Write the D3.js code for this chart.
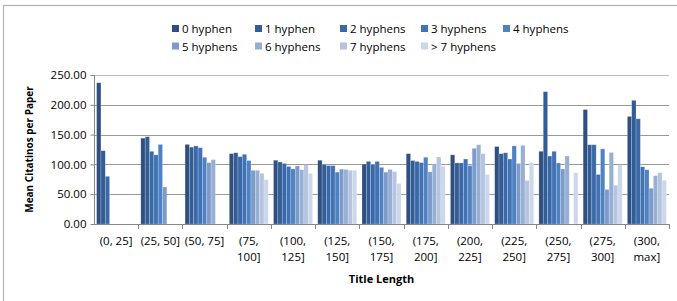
<!DOCTYPE html>
<html>
<head>
<meta charset="utf-8">
<script src="https://cdnjs.cloudflare.com/ajax/libs/d3/7.8.5/d3.min.js"></script>
<style>
  body { margin: 0; background: #fff; }
  svg { display: block; font-family: "Open Sans", sans-serif; }
  .label { font-size: 11.5px; fill: #000; }
  .title { font-size: 11px; font-weight: bold; fill: #000; }
</style>
</head>
<body>
<svg id="chart" width="677" height="301"></svg>
<script>
  /*
   * Data
   */

  var CATEGORIES = [
    "(0, 25]", "(25, 50]", "(50, 75]", "(75, 100]", "(100, 125]",
    "(125, 150]", "(150, 175]", "(175, 200]", "(200, 225]", "(225, 250]",
    "(250, 275]", "(275, 300]", "(300, max]"
  ];

  // categories that Excel wrapped onto two lines
  var WRAPPED = [false, false, false, true, true, true, true, true, true, true, true, true, true];

  var SERIES_NAMES = [
    "0 hyphen", "1 hyphen", "2 hyphens", "3 hyphens", "4 hyphens",
    "5 hyphens", "6 hyphens", "7 hyphens", "> 7 hyphens"
  ];

  var HYPHEN_0 = [237, 144, 133.5, 118, 107, 107, 100.5, 118, 116, 130, 122, 192, 180.5];
  var HYPHEN_1 = [123, 146.5, 129, 119.5, 104, 100, 105, 106.5, 102.5, 118, 222, 133, 207.5];
  var HYPHEN_2 = [80, 122, 131, 113, 101.5, 98, 100, 105, 102.5, 119.5, 114, 133, 176.5];
  var HYPHEN_3 = [null, 116, 128, 117, 96.5, 98, 105, 103, 109, 109, 122, 83, 96];
  var HYPHEN_4 = [null, 133.5, 112, 106.5, 92.5, 87, 95, 112, 98, 131, 102.5, 126, 91];
  var HYPHEN_5 = [null, 62, 103, 90, 97.5, 92, 87, 87.5, 127, 101.5, 92.5, 58, 60];
  var HYPHEN_6 = [null, null, 108, 90, 91, 91.5, 91.5, 101, 133, 132, 114, 120, 81];
  var HYPHEN_7 = [null, null, null, 85, 99, 90, 88, 112.5, 118, 73, null, 65, 86];
  var HYPHEN_8 = [null, null, null, 74.5, 85, 90, 68, 97, 83, 103, 86, 99, 73.5];

  var SERIES = [
    HYPHEN_0, HYPHEN_1, HYPHEN_2, HYPHEN_3, HYPHEN_4,
    HYPHEN_5, HYPHEN_6, HYPHEN_7, HYPHEN_8
  ];

  var Y_TICKS = [0, 50, 100, 150, 200, 250];

  var COLORS = [
    "#2e4f7f", "#335d97", "#3a69a8", "#4172b4", "#4f82c2",
    "#7d9bca", "#98afd4", "#b4c4e1", "#cdd7ea"
  ];

  /*
   * Layout
   */

  var PLOT_LEFT = 94;
  var PLOT_RIGHT = 669;
  var PLOT_TOP = 75;
  var PLOT_BOTTOM = 224;

  var LEGEND_COLS = [172, 255, 340, 421, 503];
  var LEGEND_ROWS = [29, 46.5];

  var svg = d3.select("#chart");

  // outer chart border (bottom and right fall outside the picture)
  svg.append("rect")
    .attr("x", 3.5)
    .attr("y", 5.5)
    .attr("width", 690)
    .attr("height", 320)
    .attr("fill", "none")
    .attr("stroke", "#b3b3b3")
    .attr("stroke-width", 1.2);

  var x = d3.scaleBand()
    .domain(CATEGORIES)
    .range([PLOT_LEFT, PLOT_RIGHT])
    .paddingInner(0)
    .paddingOuter(0);

  // Excel gap width ~120% of one bar
  var barw = x.bandwidth() / (SERIES.length + 1.2);
  var gap = x.bandwidth() - barw * SERIES.length;

  var y = d3.scaleLinear()
    .domain([0, 250])
    .range([PLOT_BOTTOM, PLOT_TOP]);

  // gridlines
  svg.append("g")
    .selectAll("line")
    .data(Y_TICKS.slice(1))
    .enter().append("line")
      .attr("x1", PLOT_LEFT)
      .attr("x2", PLOT_RIGHT)
      .attr("y1", d => Math.round(y(d)) + 0.5)
      .attr("y2", d => Math.round(y(d)) + 0.5)
      .attr("stroke", d => d == 250 ? "#bdbdbd" : "#989898")
      .attr("stroke-width", 1);

  // bars
  var groups = svg.append("g")
    .selectAll("g")
    .data(SERIES)
    .enter().append("g")
      .attr("fill", (d, i) => COLORS[i]);

  groups.each(function (values, si) {
    d3.select(this).selectAll("rect")
      .data(values.map((v, ci) => ({ v: v, c: CATEGORIES[ci] })).filter(d => d.v !== null))
      .enter().append("rect")
        .attr("x", d => x(d.c) + gap / 2 + si * barw)
        .attr("y", d => y(d.v))
        .attr("width", barw)
        .attr("height", d => y(0) - y(d.v))
        .attr("stroke", "#ffffff")
        .attr("stroke-opacity", 0.35)
        .attr("stroke-width", 0.6);
  });

  // y axis
  var yaxis = svg.append("g")
    .attr("transform", "translate(" + (PLOT_LEFT + 0.5) + ",0)")
    .call(d3.axisLeft(y).tickValues(Y_TICKS).tickSize(4).tickPadding(4)
      .tickFormat(d3.format(".2f")));
  yaxis.select(".domain").attr("stroke", "#888").attr("d", "M0," + PLOT_TOP + "V" + (PLOT_BOTTOM + 0.5));
  yaxis.selectAll(".tick line").attr("stroke", "#888");
  yaxis.selectAll(".tick text")
    .attr("class", "label")
    .attr("font-family", null)
    .attr("font-size", null);
  yaxis.attr("font-family", null).attr("font-size", null);

  // x axis: line plus ticks at category boundaries
  var xaxis = svg.append("g");
  xaxis.append("line")
    .attr("x1", PLOT_LEFT)
    .attr("x2", PLOT_RIGHT)
    .attr("y1", PLOT_BOTTOM + 0.5)
    .attr("y2", PLOT_BOTTOM + 0.5)
    .attr("stroke", "#888");
  xaxis.selectAll("line.tick")
    .data(CATEGORIES)
    .enter().append("line")
      .attr("class", "tick")
      .attr("x1", d => Math.round(x(d) + x.bandwidth()) + 0.5)
      .attr("x2", d => Math.round(x(d) + x.bandwidth()) + 0.5)
      .attr("y1", PLOT_BOTTOM)
      .attr("y2", PLOT_BOTTOM + 5)
      .attr("stroke", "#888");

  var xl = xaxis.selectAll("text")
    .data(CATEGORIES)
    .enter().append("text")
      .attr("class", "label")
      .attr("text-anchor", "middle")
      .attr("y", 245);
  xl.each(function (d, i) {
    var t = d3.select(this);
    var cx = x(d) + x.bandwidth() / 2;
    if (WRAPPED[i]) {
      var parts = d.split(" ");
      t.append("tspan").attr("x", cx).text(parts[0]);
      t.append("tspan").attr("x", cx).attr("dy", 16).text(parts[1]);
    } else {
      t.attr("x", cx).text(d);
    }
  });

  // axis titles
  svg.append("text")
    .attr("class", "title")
    .attr("text-anchor", "middle")
    .attr("x", (PLOT_LEFT + PLOT_RIGHT) / 2)
    .attr("y", 283)
    .text("Title Length");

  svg.append("text")
    .attr("class", "title")
    .attr("text-anchor", "middle")
    .attr("transform", "translate(33," + (PLOT_TOP + PLOT_BOTTOM) / 2 + ") rotate(-90)")
    .style("font-size", "10px")
    .text("Mean Citatinos per Paper");

  // legend
  var legend = svg.append("g")
    .selectAll("g")
    .data(SERIES_NAMES)
    .enter().append("g")
      .attr("transform", function (d, i) {
        var col = i % 5;
        var row = Math.floor(i / 5);
        return "translate(" + LEGEND_COLS[col] + "," + LEGEND_ROWS[row] + ")";
      });
  legend.append("rect")
    .attr("x", 0)
    .attr("y", -4)
    .attr("width", 7)
    .attr("height", 7)
    .attr("fill", (d, i) => COLORS[i]);
  legend.append("text")
    .attr("class", "label")
    .attr("x", 10)
    .attr("y", 4)
    .text(d => d);
</script>
</body>
</html>
